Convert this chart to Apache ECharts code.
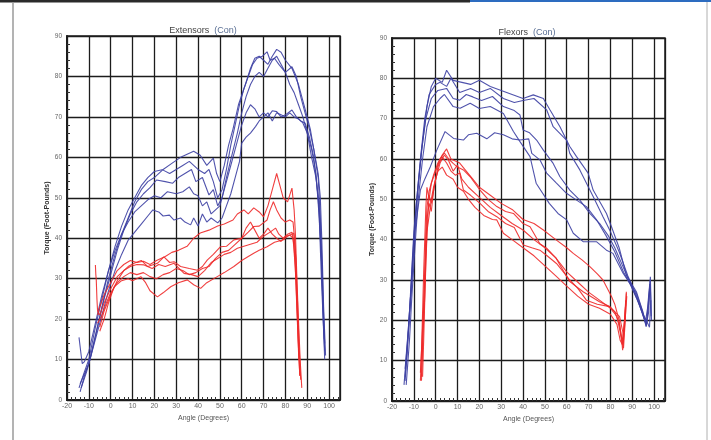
<!DOCTYPE html>
<html>
<head>
<meta charset="utf-8">
<script src="https://cdn.jsdelivr.net/npm/echarts@6/dist/echarts.min.js"></script>
<style>
html,body{margin:0;padding:0;background:#fff;}
#c{width:711px;height:440px;}
</style>
</head>
<body>
<div id="c"></div>
<script>
// ---------- titles / labels ----------
const chartTitles = ['Extensors', 'Flexors'];
const titleSuffix = '(Con)';
const xAxisName = 'Angle (Degrees)';
const yAxisName = 'Torque (Foot-Pounds)';
const xMin = -20, xMax = 105, xStep = 10;
const yMin = 0, yMax = 90, yStep = 10;

// ---------- Extensors: blue repetitions [angle, torque] ----------
const extBlue1 = [[-14.5,3],[-12,7],[-10,10],[-7,18],[-4,25],[-1,32],[2,38],[5,43],[8,47],[11,50],[14,53],[17,55],[20,56.5],[24,57],[28,58.5],[32,60],[36,61],[38,61.5],[41,60.5],[44,58],[47,59.8],[48.5,56],[50,54],[52,58],[54,63],[56,67],[58.5,73],[61.7,78],[64,82],[66,84.5],[68,85],[70,84],[72,83],[74,85],[76,86.7],[78,86],[80,84],[83,82],[86,78],[89,72],[91.4,67],[93,62],[95,56],[96,50],[96.7,39],[97.5,23],[98.4,11]];
const extBlue2 = [[-14,2],[-12,6],[-10,9],[-7,16],[-4,23],[-1,30],[2,36],[5,41],[8,45],[11,49],[14,52],[17,54],[20,55],[23.8,56.9],[27,56],[30,57],[33,58],[36,59],[38,58],[40,57],[43,56],[45,57],[47,54],[49,50],[51,52],[53,57],[55,63],[57,68],[59,73],[61,77],[63,80],[65,83],[67,84.5],[69.5,85],[71.6,86.1],[73,84],[75,84.5],[77,83],[80,81],[83,82.4],[85,80],[87,75],[89,71],[91,67],[93,62],[95,55],[96,45],[97,30],[97.8,15]];
const extBlue3 = [[-13.5,3],[-11,7],[-9,11],[-6,18],[-3,25],[0,31],[3,37],[6,42],[9,46],[12,49],[15,51],[18,52.5],[21,54.4],[25,54],[28.4,53.6],[31,55],[34,56],[37,57],[39,54],[42,55],[45,50.7],[47,52],[49,48],[51,50],[53,55],[55.7,61],[58,66],[60,71],[62,75],[64,78],[66,80],[68,81],[70,80],[72,82],[74,84],[76,85],[78,83],[80,81],[82,78],[84,76],[86,73],[88,70],[90,66],[92,60],[94,55],[95.5,48],[96.5,35],[97.3,20],[98,12]];
const extBlue4 = [[-14.5,15.5],[-13.5,11],[-13,9],[-12,9.5],[-10,12],[-7,19],[-4,26],[-1,32],[2,37],[5,41],[8,44],[11,46.5],[14,48],[17,49.5],[20,50.5],[23,50],[26,51.5],[30,51],[33,51.5],[36,52.7],[38,51],[40,50.5],[42,48],[44,49],[46,46],[48,47],[50,48],[52,52],[54,56],[56,60],[58,64],[60,68],[62,71],[64,73],[66,72],[68,70],[70,71],[72,70],[74,71.5],[76,71.3],[78,70],[80,70.5],[83,71.7],[85,70],[87,69],[89,68.5],[91,65],[93,60],[95,50],[96.5,35],[97.3,22],[98,14]];
const extBlue5 = [[-14,4],[-12,6.5],[-10,9],[-7,15],[-4,21],[-1,27],[2,32],[5,36],[8,39.5],[11,41.5],[14,43.5],[17,45.5],[19.3,47],[22,46.5],[24,45.5],[26.9,45.7],[29,44.5],[32,45],[34,44],[36.6,43.3],[38,45],[40,43],[42,46],[44,44],[46,45],[49,43.8],[51,45],[53,48],[55,51],[57,55],[59,59],[60,63.5],[62,65],[64,66],[66.3,67.6],[68,69],[70,70],[72,71],[74,69],[76,71],[78,70.5],[80,70],[82,71],[84,70],[86,69.5],[88,68.5],[90,66],[92,62],[94,56],[95.5,45],[96.5,30],[97.5,17],[98,10]];

// ---------- Extensors: red repetitions ----------
const extRed1 = [[-6,21],[-5,23],[-3,26],[0,29],[3,32],[6,33.5],[9,34.5],[12,34],[15,34.3],[18,33.5],[21,34.5],[25,35.5],[28,36.5],[31,37],[35,38],[38,40],[41,41.3],[45,42],[49,43],[52,43.5],[56,44.5],[58,46],[61,47],[63,46],[65.5,47.5],[68,46.5],[70,45.3],[72,48],[74,52],[76,56],[77.5,53],[79,50],[81,49],[83,52.4],[84,47],[84.6,41],[85.4,28],[86.2,17],[86.8,9.5],[87.5,3]];
const extRed2 = [[-5,18],[-3,22],[0,26],[3,29.5],[6,32],[8,33],[10.7,33.8],[14,34.5],[17,33],[21.4,33.8],[24.4,35.4],[27,34],[29,34.2],[32,33],[36,32.5],[39.7,32.1],[42,33],[44.2,34.6],[47,36],[50.3,37.9],[53,38],[56.4,39.6],[60,40],[63,41.5],[65.5,42.9],[68,43],[71.6,44.5],[73,47],[74.5,49],[76,47],[78,45],[80,44],[82,44.5],[83.5,44],[84.5,38],[85.3,25],[86,14],[86.6,6]];
const extRed3 = [[-7,33.4],[-6.8,31],[-6.6,29.7],[-6.3,25],[-6,22],[-5,21],[-3,24],[0,27.5],[3,30.5],[6,32],[9,33],[12,33.5],[15.3,33.4],[19,32.5],[22,33.5],[25,33],[29,33.8],[33.6,31.3],[37,31],[40,30.5],[43,32],[46,34],[49,35],[52,36],[55,36.5],[58,37.5],[61,38],[64,38.5],[67,39],[70,40.5],[73,41.5],[75.5,42.5],[77,41],[79,40],[81,41],[83,41.5],[84,38],[84.8,30],[85.5,20],[86.2,10]];
const extRed4 = [[-5,17],[-3,20],[-1,24],[1.6,28],[5,29.5],[8,30],[10,29.5],[13.8,30.5],[16,29],[18,27],[21.4,25.5],[24,26.5],[27.5,28],[31,29],[35.1,29.7],[38,28.5],[41.2,27.6],[44,29],[48.8,30.5],[52,31.5],[56.4,33],[60,34.5],[63,35.5],[65.5,36.3],[68,37],[71.6,37.9],[75,39],[79.2,39.6],[81,40.5],[83.8,41.2],[84.8,35],[85.5,25],[86.3,13],[87,5]];
const extRed5 = [[-6,19],[-4,21],[-2,24],[0,26.5],[3,29],[6,30.5],[9,31.5],[12,31],[15,31.5],[18,30.5],[21,30],[24,31],[27,31.5],[30,32.5],[33,32],[36,31],[39,31.5],[42,32.5],[45,33],[48,35],[51,36.5],[54,37],[57,38.5],[60,40],[62,42.5],[64,44],[66,42],[68,40],[70,41],[72,42.5],[74,41],[76,40],[78,39.2],[80,40.4],[82,40.8],[83.5,40],[84.5,33],[85.3,22],[86,12],[86.6,6]];

// ---------- Flexors: blue repetitions ----------
const flxBlue1 = [[-14,5],[-13,12],[-12,22],[-11,32],[-10,42],[-8,54],[-6,64],[-4,73],[-2,78],[0,80],[3,79],[5,82],[8,79.5],[12,79],[16,78.5],[20,79.5],[25,78],[30,77],[35,76],[40,75],[44.7,75.9],[49.3,75],[52.3,72.2],[56.9,68],[61.4,63.1],[64.5,60.6],[69.8,56.5],[72.1,52.3],[78.2,46.5],[80.5,43.2],[84,38],[87.3,31.2],[91.9,27.1],[94.9,22.1],[96.4,18.6],[97.5,22],[98.2,30],[98.7,21]];
const flxBlue2 = [[-14.5,4],[-13,14],[-11.5,26],[-10.5,36],[-9,48],[-7,60],[-5,70],[-3,76],[0,78.5],[2,79],[5,78],[7,80],[11,76.5],[16,77.5],[20,76.5],[25,77.5],[31,75],[36,74],[40,74.5],[45,75],[50.8,72.2],[53.8,68],[59.9,64.7],[61.4,61.4],[66,57.3],[72.1,50.7],[76.6,45.7],[80,42],[84,37],[88,31],[92,26],[95,21],[96.5,19],[97.5,24],[98,28]];
const flxBlue3 = [[-14,6],[-12.5,17],[-11,28],[-10,38],[-8.5,50],[-6.5,62],[-4.5,70],[-2,75],[1,77],[5,77.5],[8,75],[11,74.6],[14,76],[17,75.4],[21,74.5],[26,75.5],[31,73],[36,72],[38.6,70.9],[40,67.2],[43,66.5],[46.2,64.7],[49.3,62.2],[53.8,58.9],[56.9,55.6],[61.4,52.3],[66,49.8],[70.6,46.5],[75.1,44],[79,41],[82,38],[86,33],[90,28],[94,23],[96,19.5],[97,23],[98,29]];
const flxBlue4 = [[-13.5,4],[-12,15],[-11,25],[-9.5,38],[-8,50],[-6,60],[-4,68],[-1,73],[2,75],[4,76],[8,73],[11.2,72.6],[15.8,73.8],[20,72.5],[25,73],[31,71.3],[35.6,66.8],[38.6,64.3],[43.2,60.6],[46,54],[52,49],[56,46.5],[60,44.9],[63,41.6],[67.5,39.5],[73.6,39.5],[78.2,37.4],[81.2,36.6],[85.8,31.7],[91.9,26.7],[94.5,22.5],[96.4,18.4],[97.5,25],[98.3,30.8],[98.8,20]];
const flxBlue5 = [[-14,8],[-12.5,18],[-11,30],[-9.5,42],[-7,52.3],[-5,55],[-2.5,58],[0.5,62.2],[4.3,66.8],[8.2,65.1],[12.7,64.7],[15,66],[18.8,66.4],[23.4,65],[27,66.5],[31,66],[35,65],[38.6,64.7],[42.6,65],[44,61.4],[47.7,59.8],[50.8,56.5],[55.3,54],[59.9,51.5],[64,50],[69,48.2],[73.6,45],[78,41],[82,37],[86,32],[89,29],[92,25.5],[94.5,22],[96.4,20],[97.9,18.3],[98.5,25]];

// ---------- Flexors: red repetitions ----------
const flxRed1 = [[-6.5,6],[-6,14],[-5.5,24],[-5,33],[-4.5,42],[-4,48],[-3,52],[-1,56],[1,59],[3,61],[5,62.5],[7,60],[9,59.5],[11,59],[14,57],[17,55],[20,53],[25,51],[30,49],[35,47.5],[40,45],[45,44],[49.3,42.4],[55.3,39.9],[60,38],[63,36.6],[67,35],[70.6,33.3],[74,31.5],[76.6,30],[80.5,25.9],[82,24],[84,20],[85,16],[86,15],[87,22],[87.5,26]];
const flxRed2 = [[-7,5],[-6.5,12],[-6,22],[-5.5,32],[-5,40],[-4.5,48],[-4,53],[-3,50],[-2,54],[0,57],[2,60],[4,61.5],[6,60],[8,58.9],[10,58],[12.7,57.3],[15.8,55.6],[20.3,52.3],[24,50],[28,48.2],[32,47],[35.6,46.5],[40,44],[43.2,43.2],[47.7,39],[50.8,37.9],[55,35.5],[56.9,33.7],[61.4,29.6],[67.5,27.1],[75,24.6],[79.7,23.4],[82,22.1],[84.2,18.8],[85,16],[85.6,12.6],[86.5,20],[87.3,26.7]];
const flxRed3 = [[-7,7],[-6,18],[-5,30],[-4.5,38],[-4,45],[-3,49],[-2,47],[-1,52],[1,58],[2.8,60.6],[5,59],[7,57],[9,56],[11,56.5],[12.7,52.3],[16,51],[20.3,49],[24,47],[28,45.7],[32,44],[36,43],[40.1,38.7],[44,38],[47.7,37.4],[51,36],[55.3,34.1],[61.4,30],[65,28],[69,25],[74,24],[79.7,23.4],[84.2,20.9],[85.8,16.8],[86,13.1],[86.8,20],[87.3,27.1]];
const flxRed4 = [[-6.5,5],[-6,14],[-5,26],[-4.5,35],[-4,42],[-3,46],[-2,50],[-1,53],[1,57],[3,58],[5,56],[8,55],[10,53],[12.7,52],[15,50],[18,48],[22,46],[26,45],[28,44.9],[31,41.6],[35,40],[40,38],[45,36],[50,33.5],[55,31],[60,28.5],[65,26],[70,24],[75,23],[80,21.5],[83,19],[84.5,15],[85.5,14],[86.5,20],[87,25]];
const flxRed5 = [[-6,6],[-5.5,15],[-5,25],[-4.5,34],[-4,41],[-3.5,47],[-3,51],[-2,49],[0,55],[2,59],[4,61],[6,59.5],[8,57],[10,58.5],[12,55],[15,53],[20,50.5],[25,48],[30,46],[35,44],[40,42.4],[45,40],[50,38],[55,35.5],[60,32],[65,29.5],[70,27],[75,25],[80,23],[83,21],[84.5,17],[85.5,14],[86.3,19],[87,24]];

const panelBlue = [[extBlue1, extBlue2, extBlue3, extBlue4, extBlue5], [flxBlue1, flxBlue2, flxBlue3, flxBlue4, flxBlue5]];
const panelRed  = [[extRed1, extRed2, extRed3, extRed4, extRed5], [flxRed1, flxRed2, flxRed3, flxRed4, flxRed5]];

const BLUE = '#3d40a3';
const RED = '#ee2a2a';
const INK = '#1c1c1c';
const FONT = 'Liberation Sans, Arial, sans-serif';

const grids = [
  {left: 67, top: 36, width: 273, height: 364, show: true, borderColor: INK, borderWidth: 1.5, backgroundColor: '#fff'},
  {left: 392, top: 38, width: 273, height: 363, show: true, borderColor: INK, borderWidth: 1.5, backgroundColor: '#fff'}
];
const yNameGaps = [11, 12];

function makeX(i) {
  return {
    type: 'value', gridIndex: i, min: xMin, max: xMax, interval: xStep,
    axisLine: {show: true, onZero: false, lineStyle: {color: INK, width: 2}},
    axisTick: {show: true, inside: true, length: 4, lineStyle: {color: INK, width: 1}},
    minorTick: {show: true, splitNumber: 5, length: 3, lineStyle: {color: '#333', width: 1}},
    splitLine: {show: true, lineStyle: {color: INK, width: 1.3}},
    axisLabel: {fontSize: 7, color: '#666', margin: 3, fontFamily: FONT,
      formatter: v => (v > 100 ? '' : String(v))},
    name: xAxisName, nameLocation: 'middle', nameGap: 14,
    nameTextStyle: {fontSize: 7, color: '#555', fontFamily: FONT}
  };
}
function makeY(i) {
  return {
    type: 'value', gridIndex: i, min: yMin, max: yMax, interval: yStep,
    axisLine: {show: true, onZero: false, lineStyle: {color: INK, width: 2}},
    axisTick: {show: true, inside: true, length: 4, lineStyle: {color: INK, width: 1}},
    minorTick: {show: true, splitNumber: 5, length: 3, lineStyle: {color: '#333', width: 1}},
    splitLine: {show: true, lineStyle: {color: INK, width: 1.3}},
    axisLabel: {fontSize: 6.5, color: '#666', margin: 5, fontFamily: FONT},
    name: yAxisName, nameLocation: 'middle', nameGap: yNameGaps[i],
    nameTextStyle: {fontSize: 7, color: '#333', fontWeight: 'bold', fontFamily: FONT}
  };
}

const series = [];
for (let p = 0; p < 2; p++) {
  panelBlue[p].forEach(d => series.push({
    type: 'line', data: d, xAxisIndex: p, yAxisIndex: p, symbol: 'none', silent: true,
    lineStyle: {color: BLUE, width: 1.1, opacity: 0.9}, z: 3
  }));
  panelRed[p].forEach(d => series.push({
    type: 'line', data: d, xAxisIndex: p, yAxisIndex: p, symbol: 'none', silent: true,
    lineStyle: {color: RED, width: 1.1, opacity: 0.9}, z: 4
  }));
}

const titles = [
  {text: '{a|' + chartTitles[0] + '} {b|' + titleSuffix + '}', left: 203, top: 22, textAlign: 'center'},
  {text: '{a|' + chartTitles[1] + '} {b|' + titleSuffix + '}', left: 527, top: 24, textAlign: 'center'}
].map(t => Object.assign(t, {
  padding: 0,
  textStyle: {fontWeight: 'normal', rich: {
    a: {fontSize: 9, color: '#444', fontWeight: 'normal', fontFamily: FONT},
    b: {fontSize: 9, color: '#5a6f94', fontWeight: 'normal', fontFamily: FONT}
  }}
}));

const chart = echarts.init(document.getElementById('c'), null, {renderer: 'canvas'});
chart.setOption({
  backgroundColor: '#ffffff',
  animation: false,
  title: titles,
  grid: grids,
  xAxis: [makeX(0), makeX(1)],
  yAxis: [makeY(0), makeY(1)],
  series: series,
  graphic: [
    {type: 'rect', shape: {x: 0, y: 0, width: 470, height: 2.5}, style: {fill: '#2a2a2a'}, silent: true},
    {type: 'rect', shape: {x: 470, y: 0, width: 241, height: 2}, style: {fill: '#2d6cc0'}, silent: true},
    {type: 'line', shape: {x1: 13, y1: 2, x2: 13, y2: 440}, style: {stroke: '#9a9a9a', lineWidth: 1.5}, silent: true},
    {type: 'line', shape: {x1: 707, y1: 2, x2: 707, y2: 440}, style: {stroke: '#b0b0b0', lineWidth: 1}, silent: true}
  ]
});
</script>
</body>
</html>
